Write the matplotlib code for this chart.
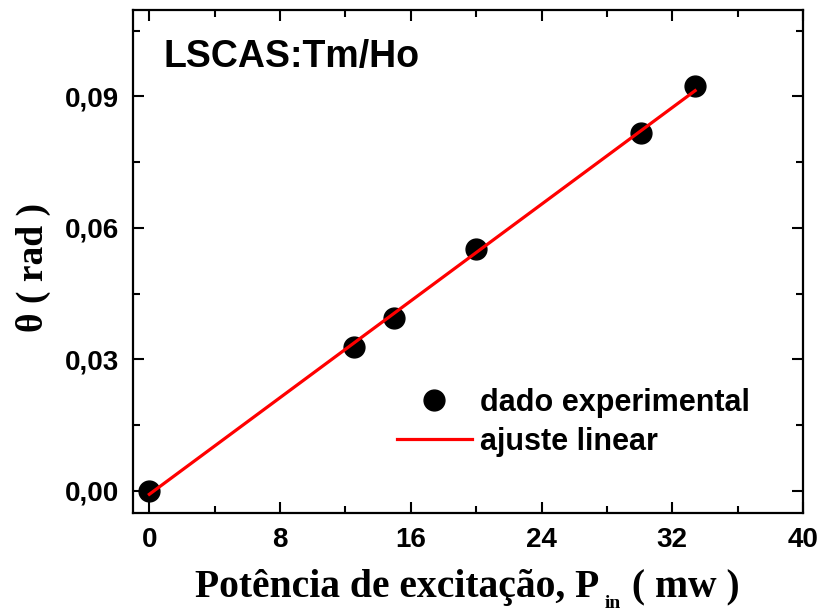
import matplotlib
matplotlib.use('Agg')
import matplotlib.pyplot as plt
from matplotlib.ticker import MultipleLocator, FixedLocator, FixedFormatter
from matplotlib.font_manager import FontProperties

# data
power = [0, 12.55, 14.95, 20.0, 30.1, 33.4]
theta = [0.0, 0.0327, 0.0395, 0.0551, 0.0816, 0.0923]
fit_x = [0, 33.4]
fit_y = [-0.0008, 0.0913]

xticks = [0, 8, 16, 24, 32, 40]
yticks = [0.0, 0.03, 0.06, 0.09]
ytick_labels = ['0,00', '0,03', '0,06', '0,09']

fig = plt.figure(figsize=(8.24, 6.12), dpi=100)
ax = fig.add_axes([133 / 824, 1 - 512.7 / 612, 670 / 824, 502.7 / 612])

ax.plot(power, theta, 'o', color='black', markersize=15, label='dado experimental', zorder=2)
ax.plot(fit_x, fit_y, '-', color='red', linewidth=2.3, label='ajuste linear', zorder=3)

ax.set_xlim(-1, 40)
ax.set_ylim(-0.005, 0.1097)

ax.xaxis.set_major_locator(FixedLocator(xticks))
ax.xaxis.set_minor_locator(MultipleLocator(4))
ax.yaxis.set_major_locator(FixedLocator(yticks))
ax.yaxis.set_major_formatter(FixedFormatter(ytick_labels))
ax.yaxis.set_minor_locator(MultipleLocator(0.015))

for s in ax.spines.values():
    s.set_linewidth(1.6)
ax.tick_params(which='both', direction='in', top=True, right=True, width=1.5)
ax.tick_params(which='major', length=8, pad=10)
ax.tick_params(which='minor', length=5)

tick_fp = FontProperties(family='Liberation Sans', weight='bold', size=20)
for lab in ax.get_xticklabels() + ax.get_yticklabels():
    lab.set_fontproperties(tick_fp)

# y label
ax.set_ylabel('θ ( rad )', family='Liberation Serif', weight='bold', size=27)
ax.yaxis.set_label_coords(-0.122, 0.487)

# x label with a lowered subscript, built from three pieces
serif = dict(family='Liberation Serif', weight='bold')
t1 = fig.text(195 / 824, 15 / 612, 'Potência de excitação, P', size=28.5, va='baseline', **serif)
t2 = ax.annotate('in', xy=(1, 4), xycoords=(t1, 'figure pixels'), xytext=(5, 0),
                 textcoords='offset pixels', size=14, va='baseline', annotation_clip=False, **serif)
t3 = ax.annotate(' ( mw )', xy=(1, 15), xycoords=(t2, 'figure pixels'), xytext=(2, 0),
                 textcoords='offset pixels', size=28.5, va='baseline', annotation_clip=False, **serif)

ax.text(0.0448, 0.8866, 'LSCAS:Tm/Ho', transform=ax.transAxes, family='Liberation Sans',
        weight='bold', size=27, va='baseline')

ax.legend(loc='upper left', bbox_to_anchor=(397 / 824, 1 - 388 / 612),
          bbox_transform=fig.transFigure, frameon=False, numpoints=1,
          handlelength=2.45, handletextpad=0.26, labelspacing=0.3, borderpad=0,
          borderaxespad=0, prop=dict(family='Liberation Sans', weight='bold', size=22))

fig.savefig('out.png', dpi=100)
